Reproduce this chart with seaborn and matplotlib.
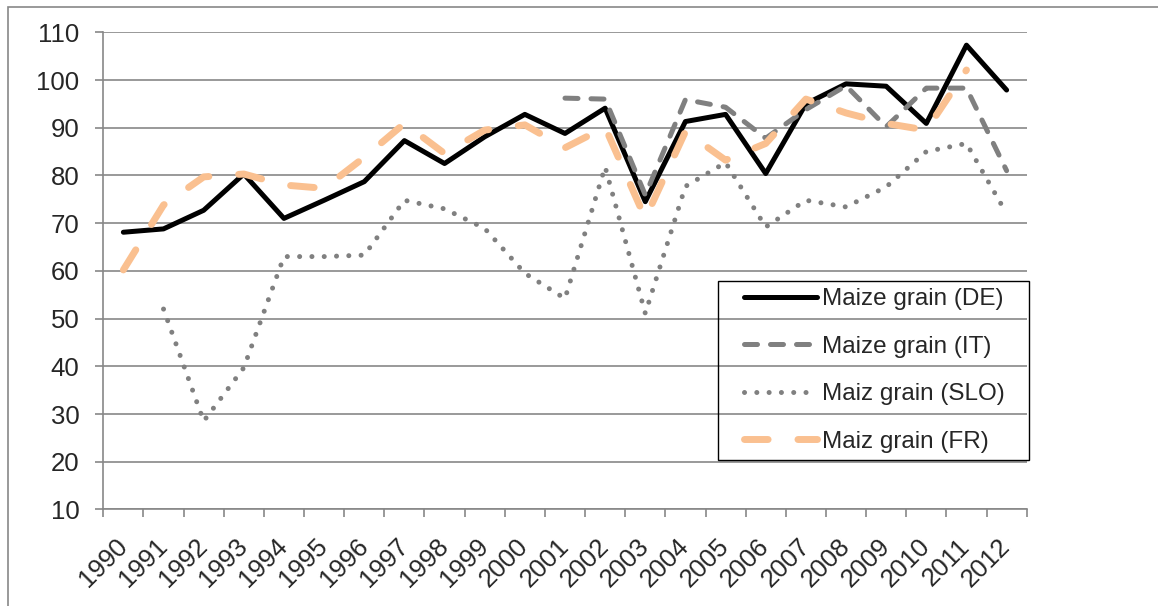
import numpy as np
import pandas as pd
import matplotlib
matplotlib.use("Agg")
import matplotlib.pyplot as plt
from matplotlib.patches import Rectangle
import seaborn as sns

nan = np.nan

# values, one per year
years = [str(y) for y in range(1990, 2013)]
de = [68.1, 68.8, 72.7, 80.3, 71.0, 74.8, 78.7, 87.3, 82.5, 88.1, 92.8, 88.8,
      94.1, 74.5, 91.3, 92.8, 80.4, 95.0, 99.2, 98.7, 90.9, 107.3, 97.9]
it = [nan] * 11 + [96.2, 96.0, 75.9, 95.9, 94.3, 87.8, 93.8, 98.8, 90.2, 98.3,
                   98.3, 81.0]
slo = [nan, 52.0, 28.5, 39.7, 63.0, 63.0, 63.3, 74.8, 73.0, 68.9, 59.5, 54.2,
       81.8, 51.1, 77.7, 82.7, 69.2, 74.8, 73.4, 77.6, 85.0, 86.7, 72.0]
fr = [60.2, 73.8, 79.7, 80.3, 78.0, 77.3, 83.8, 90.9, 84.6, 89.5, 90.6, 85.8,
      90.1, 71.0, 89.2, 83.2, 86.7, 96.0, 93.1, 90.9, 89.5, 102.1, nan]

labels = ["Maize grain (DE)", "Maize grain (IT)", "Maiz grain (SLO)", "Maiz grain (FR)"]

sns.set_style("white")
plt.rcParams["font.family"] = ["Liberation Sans", "DejaVu Sans"]

grey = "#878787"
tick_fs = 18.5
leg_fs = 17.5

fig = plt.figure(figsize=(11.58, 6.06), dpi=100)
ax = fig.add_axes([0.0892, 0.1593, 0.7974, 0.7874])

pos = np.arange(len(years))
df = pd.DataFrame({"pos": pos, "de": de, "it": it, "slo": slo, "fr": fr})

sns.lineplot(data=df, x="pos", y="de", ax=ax, color="black", lw=3.6,
             solid_capstyle="round", label=labels[0])
sns.lineplot(data=df, x="pos", y="it", ax=ax, color="#808080", lw=3.6,
             linestyle=(0, (2.6, 2.6)), dash_capstyle="round", label=labels[1])
sns.lineplot(data=df, x="pos", y="slo", ax=ax, color="#808080", lw=3.6,
             linestyle=(0, (0.01, 2.45)), dash_capstyle="round", label=labels[2])
sns.lineplot(data=df, x="pos", y="fr", ax=ax, color="#FAC090", lw=5.0,
             linestyle=(0, (3.4, 4.3)), dash_capstyle="round", label=labels[3])

ax.set_xlim(-0.5, len(years) - 0.5)
ax.set_ylim(10, 110)
ax.set_yticks(range(10, 111, 10))
ax.set_xticks(pos)
ax.set_xticklabels(years, rotation=45, ha="right", va="center",
                   rotation_mode="anchor")
ax.set_xticks(np.arange(-0.5, len(years), 1.0), minor=True)
ax.tick_params(axis="x", which="major", length=0, pad=24, labelsize=tick_fs)
ax.tick_params(axis="x", which="minor", length=5.8, width=1.2, color=grey,
               direction="out", bottom=True)
ax.tick_params(axis="y", length=5.8, width=1.2, color=grey, pad=11.5,
               labelsize=tick_fs, left=True)
ax.set_xlabel("")
ax.set_ylabel("")
ax.grid(axis="y", color=grey, lw=1.2)
ax.set_axisbelow(True)
for side in ["top", "right"]:
    ax.spines[side].set_visible(False)
for side in ["left", "bottom"]:
    ax.spines[side].set_color(grey)
    ax.spines[side].set_linewidth(1.2)

leg = ax.legend(loc="upper left", bbox_to_anchor=(0.6863, 0.4788),
                borderaxespad=0, frameon=False, fontsize=leg_fs, borderpad=0.3,
                labelspacing=1.05, handlelength=3.0, handletextpad=0.2)

# legend box is wider than the text block, so draw the frame by hand
fig.canvas.draw()
bb = leg.get_window_extent()
fig.add_artist(Rectangle((bb.x0 - 19, bb.y0), bb.width + 36, bb.height,
                         transform=None, fill=False, ec="black", lw=1.0))

# outer chart border
fig.add_artist(Rectangle((8.3 / 1158, -0.05), 1.1, 1.05 - 7.3 / 606,
                         transform=fig.transFigure, fill=False, ec=grey,
                         lw=1.2, clip_on=False))

fig.savefig("out.png", dpi=100)
